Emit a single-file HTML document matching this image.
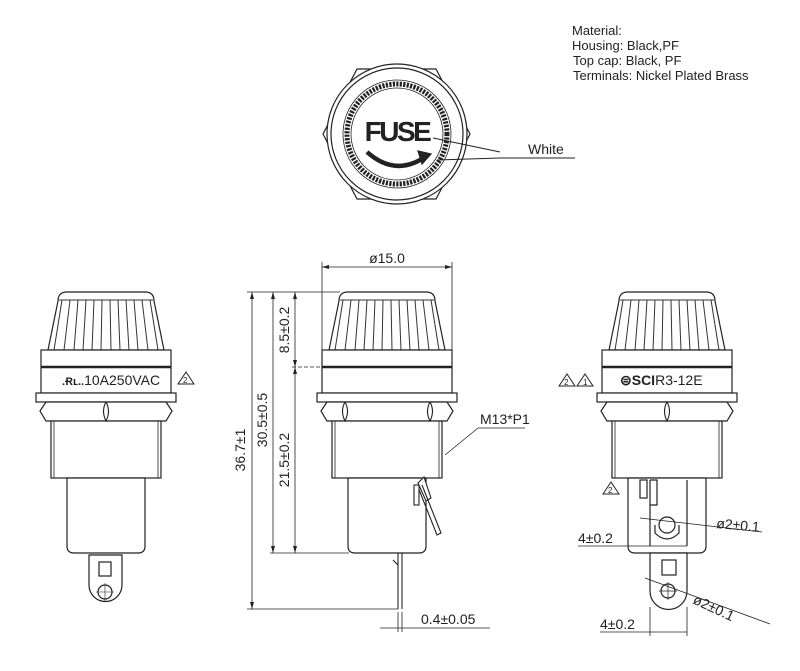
<!DOCTYPE html>
<html><head><meta charset="utf-8"><style>
html,body{margin:0;padding:0;background:#fff;}
svg{display:block;font-family:"Liberation Sans",sans-serif;}
</style></head><body>
<svg width="800" height="671" viewBox="0 0 800 671" xmlns="http://www.w3.org/2000/svg">
<defs>
<g id="body" fill="#fff" stroke="#222" stroke-width="1.2">
  <path d="M-48,9 Q-48,0 -39,0 L39,0 Q48,0 48,9 L58,58 L-58,58 Z"/>
  <g stroke-width="1" stroke="#333">
    <line x1="-44" y1="8" x2="-52" y2="58"/><line x1="-36" y1="8" x2="-42" y2="58"/>
    <line x1="-28" y1="8" x2="-32" y2="58"/><line x1="-20" y1="8" x2="-23" y2="58"/>
    <line x1="-12" y1="8" x2="-14" y2="58"/><line x1="-4" y1="8" x2="-5" y2="58"/>
    <line x1="4" y1="8" x2="5" y2="58"/><line x1="12" y1="8" x2="14" y2="58"/>
    <line x1="20" y1="8" x2="23" y2="58"/><line x1="28" y1="8" x2="32" y2="58"/>
    <line x1="36" y1="8" x2="42" y2="58"/><line x1="44" y1="8" x2="52" y2="58"/>
    <line x1="-47" y1="8" x2="47" y2="8"/>
  </g>
  <rect x="-65" y="58" width="130" height="43"/>
  <line x1="-65" y1="75" x2="65" y2="75" stroke-width="2.5"/>
  <rect x="-70" y="101" width="140" height="9"/>
  <path d="M-60,110 L60,110 L66,119 L60,129 L-60,129 L-66,119 Z"/>
  <rect x="-55" y="129" width="110" height="57"/>
  <line x1="-52" y1="129" x2="-52" y2="186" stroke-width="0.8"/>
  <line x1="52" y1="129" x2="52" y2="186" stroke-width="0.8"/>
  <path d="M-39,186 L39,186 L39,254 Q39,261 32,261 L-32,261 Q-39,261 -39,254 Z"/>
</g>
<path id="div2" d="M0,110 Q-5,119 0,129 Q5,119 0,110" fill="none" stroke="#222" stroke-width="1.1"/>
</defs>

<!-- Material text -->
<g font-size="13" fill="#222">
<text x="572" y="35">Material:</text>
<text x="572" y="50">Housing: Black,PF</text>
<text x="573" y="65">Top cap: Black, PF</text>
<text x="573" y="80">Terminals: Nickel Plated Brass</text>
</g>

<!-- Top view -->
<g fill="none" stroke="#222" stroke-width="1.2">
<path d="M357,69 L436,69 L470,134 L436,199 L357,199 L323,134 Z"/>
<circle cx="397" cy="134" r="70" fill="#fff"/>
<circle cx="397" cy="134" r="66"/>
<circle cx="397" cy="134" r="50" stroke-width="5" stroke-dasharray="2.2 1.3"/>
<circle cx="397" cy="134" r="46" stroke-width="0.8"/>
<circle cx="397" cy="134" r="54" stroke-width="0.8"/>
<path d="M367,152 Q395,177 425,157" stroke-width="4.5"/>
<path d="M418,151 L431,154 L422,164 Z" fill="#222"/>
<line x1="433" y1="138" x2="500" y2="152" stroke-width="1"/>
<line x1="437" y1="160" x2="500" y2="158" stroke-width="1"/>
<line x1="500" y1="158" x2="575" y2="158" stroke-width="1"/>
</g>
<text x="397" y="141" font-size="28" font-weight="bold" text-anchor="middle" fill="#222" letter-spacing="-2.5">FUSE</text>
<text x="528" y="154" font-size="14" fill="#222">White</text>

<!-- Left view -->
<use href="#body" x="106" y="292"/>
<use href="#div2" x="106" y="292"/>
<g fill="#fff" stroke="#222" stroke-width="1.2">
<path d="M89,555 L122,555 L122,585 A16.5,16.5 0 0 1 89,585 Z"/>
<rect x="99" y="562" width="12" height="14"/>
<circle cx="105" cy="592" r="7"/>
</g>
<g stroke="#222" stroke-width="0.6"><line x1="96" y1="592" x2="114" y2="592"/><line x1="105" y1="583" x2="105" y2="601"/></g>
<text x="62" y="385" font-size="14" fill="#222"><tspan font-weight="bold" font-size="11">.Ɍʟ..</tspan>10A250VAC</text>
<path d="M178,384 L186,372 L194,384 Z" fill="none" stroke="#222"/>
<text x="183" y="383" font-size="8" fill="#222">2</text>

<!-- Middle view -->
<use href="#body" x="387" y="292"/>
<use href="#div2" x="345" y="292"/>
<use href="#div2" x="430" y="292"/>
<g fill="#fff" stroke="#222" stroke-width="1.1">
<path d="M418,483 L424,477 L431,498 L426,501 Z"/>
<path d="M418,487 L437,535 L441,533 L422,485" fill="none"/>
<rect x="414" y="485" width="5" height="20"/>
<line x1="398" y1="553" x2="398" y2="609"/><line x1="402" y1="553" x2="402" y2="609"/>
<path d="M398,565 L393,560"/>
</g>
<g stroke="#222" stroke-width="0.8" fill="none">
<line x1="322" y1="262" x2="322" y2="350"/><line x1="452" y1="262" x2="452" y2="350"/>
<line x1="322" y1="267" x2="452" y2="267"/>
<line x1="247" y1="292" x2="340" y2="292"/>
<line x1="270" y1="553" x2="349" y2="553"/>
<line x1="247" y1="609" x2="398" y2="609"/>
<line x1="292" y1="367" x2="320" y2="367" stroke-dasharray="4 2"/>
<line x1="252" y1="292" x2="252" y2="609"/>
<line x1="273" y1="292" x2="273" y2="553"/>
<line x1="295" y1="292" x2="295" y2="553"/>
<line x1="398" y1="612" x2="398" y2="632"/><line x1="402" y1="612" x2="402" y2="632"/>
<line x1="380" y1="628" x2="490" y2="628"/>
<line x1="525" y1="428" x2="478" y2="428"/><line x1="478" y1="428" x2="445" y2="455"/>
</g>
<g fill="#222">
<path d="M322,267 l7,-2 v4 Z"/><path d="M452,267 l-7,-2 v4 Z"/>
<path d="M252,292 l-2,7 h4 Z"/><path d="M252,609 l-2,-7 h4 Z"/>
<path d="M273,292 l-2,7 h4 Z"/><path d="M273,553 l-2,-7 h4 Z"/>
<path d="M295,292 l-2,7 h4 Z"/><path d="M295,553 l-2,-7 h4 Z"/>
<path d="M295,367 l-2,-7 h4 Z"/><path d="M295,367 l-2,7 h4 Z"/>
</g>
<g font-size="14" fill="#222">
<text x="387" y="263" text-anchor="middle">ø15.0</text>
<text transform="translate(245,450) rotate(-90)" text-anchor="middle">36.7±1</text>
<text transform="translate(267,420) rotate(-90)" text-anchor="middle">30.5±0.5</text>
<text transform="translate(289,330) rotate(-90)" text-anchor="middle">8.5±0.2</text>
<text transform="translate(289,460) rotate(-90)" text-anchor="middle">21.5±0.2</text>
<text x="480" y="424">M13*P1</text>
<text x="421" y="624">0.4±0.05</text>
</g>

<!-- Right view -->
<use href="#body" x="667" y="292"/>
<use href="#div2" x="667" y="292"/>
<g fill="#fff" stroke="#222" stroke-width="1.2">
<path d="M650,553 L687,553 L687,591 A18.5,18.5 0 0 1 650,591 Z"/>
<rect x="662" y="560" width="14" height="15"/>
<circle cx="668" cy="591" r="7"/>
<rect x="640" y="480" width="7" height="18"/>
<path d="M650,480 L657,480 L657,505 L650,505" fill="none"/>
<line x1="650" y1="480" x2="650" y2="546"/><line x1="687" y1="480" x2="687" y2="546"/>
<circle cx="667" cy="525" r="8"/>
<path d="M655,525 L655,533 Q667,545 679,533 L679,525" fill="none"/>
</g>
<g stroke="#222" stroke-width="0.7"><line x1="659" y1="591" x2="677" y2="591"/><line x1="668" y1="582" x2="668" y2="600"/></g>
<g stroke="#222" stroke-width="0.8" fill="none">
<line x1="578" y1="546" x2="687" y2="546"/>
<line x1="640" y1="518" x2="762" y2="532"/>
<line x1="600" y1="632" x2="687" y2="632"/>
<line x1="650" y1="607" x2="650" y2="636"/><line x1="687" y1="607" x2="687" y2="636"/>
<line x1="645" y1="578" x2="770" y2="624"/>
</g>
<g font-size="14" fill="#222">
<text x="578" y="543">4±0.2</text>
<text x="716" y="528" transform="rotate(5 716 528)">ø2±0.1</text>
<text x="600" y="629">4±0.2</text>
<text x="692" y="603" transform="rotate(25 692 603)">ø2±0.1</text>
<text x="620" y="385"><tspan font-weight="bold">⊜SCI</tspan>R3-12E</text>
</g>
<g fill="none" stroke="#222">
<path d="M559,386 L567,374 L575,386 Z"/><path d="M577,386 L585,374 L593,386 Z"/>
<path d="M603,494 L611,482 L619,494 Z"/>
</g>
<g font-size="8" fill="#222"><text x="564" y="385">2</text><text x="583" y="385">1</text><text x="608" y="493">2</text></g>
</svg>
</body></html>
